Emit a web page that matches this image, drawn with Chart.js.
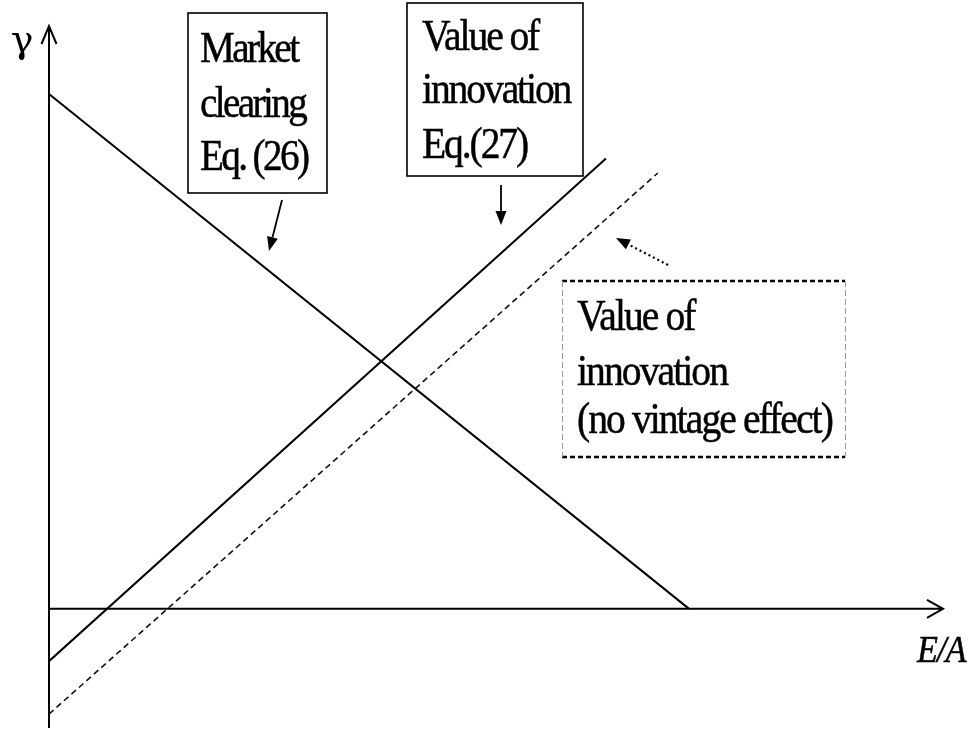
<!DOCTYPE html>
<html>
<head>
<meta charset="utf-8">
<script src="https://cdn.jsdelivr.net/npm/chart.js@4"></script>
<style>
    body { margin: 0; background: #ffffff; }
    canvas { display: block; }
</style>
</head>
<body>
<canvas id="diagram" width="978" height="731"></canvas>
<script>
// line end points (x = E/A, y = gamma, arbitrary units)
var marketX = [0, 7.16];
var marketY = [8.86, 0];
var innovX = [0, 6.23];
var innovY = [-0.9, 7.75];
var noVintageX = [0, 6.81];
var noVintageY = [-1.81, 7.5];

var xLabel = "E/A";
var yLabel = "\u03b3";
var marketText = ["Market", "clearing", "Eq. (26)"];
var innovText = ["Value of", "innovation", "Eq.(27)"];
var noVintageText = ["Value of", "innovation", "(no vintage effect)"];

function toPoints(xs, ys) {
    return xs.map(function (x, i) { return { x: x, y: ys[i] }; });
}

// draws a line of text squeezed sideways and tightly set, like the Times in the original
function squeezedText(ctx, text, x, y, sx, spacing) {
    ctx.save();
    ctx.translate(x, y);
    ctx.scale(sx, 1);
    ctx.letterSpacing = (spacing || 0) + "px";
    ctx.fillText(text, 0, 0);
    ctx.lineWidth = 0.5;
    ctx.strokeStyle = "#000";
    ctx.strokeText(text, 0, 0);
    ctx.restore();
}

function filledArrow(ctx, x1, y1, x2, y2, dash) {
    var ang = Math.atan2(y2 - y1, x2 - x1);
    var len = 14, half = 5.5;
    ctx.save();
    ctx.strokeStyle = "#000";
    ctx.fillStyle = "#000";
    ctx.lineWidth = dash ? 2.2 : 1.8;
    ctx.setLineDash(dash || []);
    ctx.beginPath();
    ctx.moveTo(x1, y1);
    ctx.lineTo(x2 - Math.cos(ang) * len, y2 - Math.sin(ang) * len);
    ctx.stroke();
    ctx.setLineDash([]);
    ctx.beginPath();
    ctx.moveTo(x2, y2);
    ctx.lineTo(x2 - Math.cos(ang) * len - Math.sin(ang) * half, y2 - Math.sin(ang) * len + Math.cos(ang) * half);
    ctx.lineTo(x2 - Math.cos(ang) * len + Math.sin(ang) * half, y2 - Math.sin(ang) * len - Math.cos(ang) * half);
    ctx.closePath();
    ctx.fill();
    ctx.restore();
}

// axes with open arrow heads, labels, boxes and pointers
var diagramPlugin = {
    id: "diagram",
    beforeDatasetsDraw: function (chart) {
        var ctx = chart.ctx;
        var xs = chart.scales.x, ys = chart.scales.y;
        var x0 = xs.getPixelForValue(0), y0 = ys.getPixelForValue(0);
        var xEnd = xs.getPixelForValue(xs.max), yTop = ys.getPixelForValue(ys.max);
        var yBottom = ys.getPixelForValue(ys.min);

        ctx.save();
        ctx.strokeStyle = "#000";
        ctx.lineWidth = 2;
        ctx.beginPath();
        ctx.moveTo(x0, yBottom);
        ctx.lineTo(x0, yTop);
        ctx.moveTo(x0 - 7.5, yTop + 18);
        ctx.lineTo(x0, yTop);
        ctx.lineTo(x0 + 7.5, yTop + 18);
        ctx.moveTo(x0, y0);
        ctx.lineTo(xEnd, y0);
        ctx.moveTo(xEnd - 16, y0 - 9);
        ctx.lineTo(xEnd, y0);
        ctx.lineTo(xEnd - 16, y0 + 9);
        ctx.stroke();
        ctx.restore();
    },
    afterDatasetsDraw: function (chart) {
        var ctx = chart.ctx;
        ctx.save();
        ctx.fillStyle = "#000";
        ctx.textBaseline = "alphabetic";

        ctx.font = "38px 'DejaVu Serif'";
        ctx.textAlign = "center";
        ctx.fillText(yLabel, 22, 52);
        ctx.textAlign = "left";
        ctx.font = "italic 38px 'Liberation Serif'";
        squeezedText(ctx, xLabel, 917, 662, 0.9, -1);

        // solid boxes
        ctx.strokeStyle = "#000";
        ctx.lineWidth = 1.6;
        ctx.strokeRect(188, 13, 139, 180);
        ctx.strokeRect(407, 3, 176, 173);

        ctx.font = "45px 'Liberation Serif'";
        [62, 117, 170].forEach(function (b, i) { squeezedText(ctx, marketText[i], 200, b, 0.87, -3); });
        [50, 103, 158].forEach(function (b, i) { squeezedText(ctx, innovText[i], 422, b, 0.88, -2.4); });
        [330, 385, 433].forEach(function (b, i) { squeezedText(ctx, noVintageText[i], 577, b, 0.88, -2.2); });

        // dashed box: heavy dashes top and bottom, faint grey sides
        ctx.setLineDash([5, 3]);
        ctx.lineWidth = 2.4;
        ctx.beginPath();
        ctx.moveTo(562, 281); ctx.lineTo(845, 281);
        ctx.moveTo(562, 457); ctx.lineTo(845, 457);
        ctx.stroke();
        ctx.strokeStyle = "#999";
        ctx.lineWidth = 1;
        ctx.setLineDash([6, 3]);
        ctx.beginPath();
        ctx.moveTo(562.5, 281); ctx.lineTo(562.5, 457);
        ctx.moveTo(845.5, 281); ctx.lineTo(845.5, 457);
        ctx.stroke();
        ctx.restore();

        filledArrow(ctx, 282, 200, 269, 251);
        filledArrow(ctx, 501, 185, 501, 225);
        filledArrow(ctx, 668, 265, 616, 238, [2, 3]);
    }
};

document.addEventListener("DOMContentLoaded", function () {
    var ctx = document.getElementById("diagram").getContext("2d");

    new Chart(ctx, {
        type: "scatter",
        data: {
            datasets: [
                {
                    label: "Market clearing",
                    data: toPoints(marketX, marketY),
                    showLine: true,
                    borderColor: "#000",
                    borderWidth: 2,
                    pointRadius: 0,
                },
                {
                    label: "Value of innovation",
                    data: toPoints(innovX, innovY),
                    showLine: true,
                    borderColor: "#000",
                    borderWidth: 2,
                    pointRadius: 0,
                },
                {
                    label: "Value of innovation (no vintage effect)",
                    data: toPoints(noVintageX, noVintageY),
                    showLine: true,
                    borderColor: "#111",
                    borderWidth: 1.6,
                    borderDash: [6, 4],
                    pointRadius: 0,
                },
            ],
        },
        options: {
            responsive: false,
            animation: false,
            layout: { padding: { left: 49, right: 35, top: 26, bottom: 3 } },
            plugins: {
                legend: { display: false },
                tooltip: { enabled: false },
            },
            scales: {
                x: { type: "linear", min: 0, max: 10, display: false },
                y: { type: "linear", min: -2.05, max: 10.03, display: false },
            },
        },
        plugins: [diagramPlugin],
    });
});
</script>
</body>
</html>
